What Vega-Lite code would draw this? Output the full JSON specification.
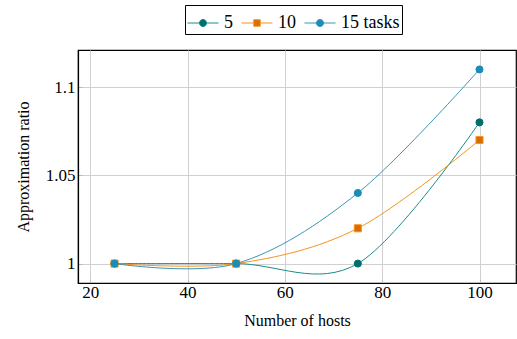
{
  "$schema": "https://vega.github.io/schema/vega-lite/v6.json",
  "width": 438,
  "height": 233,
  "autosize": {"type": "none"},
  "padding": {"left": 78, "top": 50, "right": 1, "bottom": 56},
  "background": "white",
  "config": {
    "font": "Liberation Serif",
    "view": {"stroke": "black", "strokeWidth": 1.2},
    "axis": {
      "labelFont": "Liberation Serif",
      "titleFont": "Liberation Serif",
      "labelFontSize": 17,
      "titleFontSize": 16,
      "titleFontWeight": "normal",
      "labelColor": "black",
      "titleColor": "black",
      "gridColor": "#d0d0d0",
      "gridWidth": 1,
      "tickColor": "#bbbbbb",
      "domainColor": "black",
      "domainWidth": 1.2
    },
    "legend": {
      "labelFont": "Liberation Serif",
      "labelFontSize": 18,
      "labelColor": "black"
    }
  },
  "data": {
    "values": [
      {"hosts": 25, "ratio": 1.0, "series": "5", "legend_label": "5"},
      {"hosts": 50, "ratio": 1.0, "series": "5", "legend_label": "5"},
      {"hosts": 75, "ratio": 1.0, "series": "5", "legend_label": "5"},
      {"hosts": 100, "ratio": 1.08, "series": "5", "legend_label": "5"},
      {"hosts": 25, "ratio": 1.0, "series": "10", "legend_label": "10"},
      {"hosts": 50, "ratio": 1.0, "series": "10", "legend_label": "10"},
      {"hosts": 75, "ratio": 1.02, "series": "10", "legend_label": "10"},
      {"hosts": 100, "ratio": 1.07, "series": "10", "legend_label": "10"},
      {"hosts": 25, "ratio": 1.0, "series": "15", "legend_label": "15 tasks"},
      {"hosts": 50, "ratio": 1.0, "series": "15", "legend_label": "15 tasks"},
      {"hosts": 75, "ratio": 1.04, "series": "15", "legend_label": "15 tasks"},
      {"hosts": 100, "ratio": 1.11, "series": "15", "legend_label": "15 tasks"}
    ]
  },
  "encoding": {
    "x": {
      "field": "hosts",
      "type": "quantitative",
      "scale": {"domain": [17.5, 107.5], "nice": false, "zero": false},
      "axis": {
        "values": [20, 40, 60, 80, 100],
        "title": "Number of hosts",
        "ticks": true,
        "tickSize": -4,
        "labelPadding": 5,
        "titlePadding": 12
      }
    },
    "y": {
      "field": "ratio",
      "type": "quantitative",
      "scale": {"domain": [0.989, 1.121], "nice": false, "zero": false},
      "axis": {
        "values": [1, 1.05, 1.1],
        "format": ".2~f",
        "title": "Approximation ratio",
        "ticks": true,
        "tickSize": -4,
        "labelPadding": 7,
        "titlePadding": 14
      }
    }
  },
  "layer": [
    {
      "mark": {"type": "line", "interpolate": "cardinal", "strokeWidth": 1},
      "encoding": {
        "color": {
          "field": "series",
          "type": "nominal",
          "scale": {"domain": ["5", "10", "15"], "range": ["#1a8c8c", "#f7931e", "#3a94b6"]},
          "legend": null
        },
        "detail": {"field": "series"}
      }
    },
    {
      "mark": {"type": "point", "filled": true, "size": 50, "strokeWidth": 1, "opacity": 1},
      "encoding": {
        "shape": {
          "field": "series",
          "type": "nominal",
          "scale": {"domain": ["5", "10", "15"], "range": ["circle", "square", "circle"]},
          "legend": null
        },
        "fill": {
          "field": "series",
          "type": "nominal",
          "scale": {"domain": ["5", "10", "15"], "range": ["#006e6e", "#d96c00", "#1a8cb8"]},
          "legend": null
        },
        "stroke": {
          "field": "series",
          "type": "nominal",
          "scale": {"domain": ["5", "10", "15"], "range": ["#006e6e", "#f7931e", "#1a8cb8"]},
          "legend": null
        }
      }
    },
    {
      "mark": {"type": "point", "filled": true, "opacity": 0, "strokeWidth": 1},
      "encoding": {
        "shape": {
          "field": "legend_label",
          "type": "nominal",
          "scale": {
            "domain": ["5", "10", "15 tasks"],
            "range": [
              "M-1,0H-0.23A0.23,0.23 0 1,1 0.23,0A0.23,0.23 0 1,1 -0.23,0M0.23,0H1",
              "M-1,0H-0.21M-0.21,-0.21H0.21V0.21H-0.21ZM0.21,0H1",
              "M-1,0H-0.23A0.23,0.23 0 1,1 0.23,0A0.23,0.23 0 1,1 -0.23,0M0.23,0H1"
            ]
          },
          "legend": {
            "title": null,
            "orient": "none",
            "direction": "horizontal",
            "legendX": 107,
            "legendY": -45,
            "symbolSize": 961,
            "symbolOpacity": 1,
            "symbolStrokeWidth": 1,
            "labelFont": "Liberation Serif",
            "labelFontSize": 18,
            "labelColor": "black",
            "labelOffset": 5,
            "columnPadding": 6,
            "padding": 2,
            "strokeColor": "black",
            "fillColor": "white"
          }
        },
        "fill": {
          "field": "legend_label",
          "type": "nominal",
          "scale": {"domain": ["5", "10", "15 tasks"], "range": ["#006e6e", "#d96c00", "#1a8cb8"]},
          "legend": {
            "title": null,
            "orient": "none",
            "direction": "horizontal",
            "legendX": 107,
            "legendY": -45,
            "symbolSize": 961,
            "symbolOpacity": 1,
            "symbolStrokeWidth": 1,
            "labelFont": "Liberation Serif",
            "labelFontSize": 18,
            "labelColor": "black",
            "labelOffset": 5,
            "columnPadding": 6,
            "padding": 2,
            "strokeColor": "black",
            "fillColor": "white"
          }
        },
        "stroke": {
          "field": "legend_label",
          "type": "nominal",
          "scale": {"domain": ["5", "10", "15 tasks"], "range": ["#1a8c8c", "#f7931e", "#3a94b6"]},
          "legend": {
            "title": null,
            "orient": "none",
            "direction": "horizontal",
            "legendX": 107,
            "legendY": -45,
            "symbolSize": 961,
            "symbolOpacity": 1,
            "symbolStrokeWidth": 1,
            "labelFont": "Liberation Serif",
            "labelFontSize": 18,
            "labelColor": "black",
            "labelOffset": 5,
            "columnPadding": 6,
            "padding": 2,
            "strokeColor": "black",
            "fillColor": "white"
          }
        }
      }
    }
  ],
  "resolve": {"scale": {"shape": "independent", "fill": "independent", "stroke": "independent"}}
}
